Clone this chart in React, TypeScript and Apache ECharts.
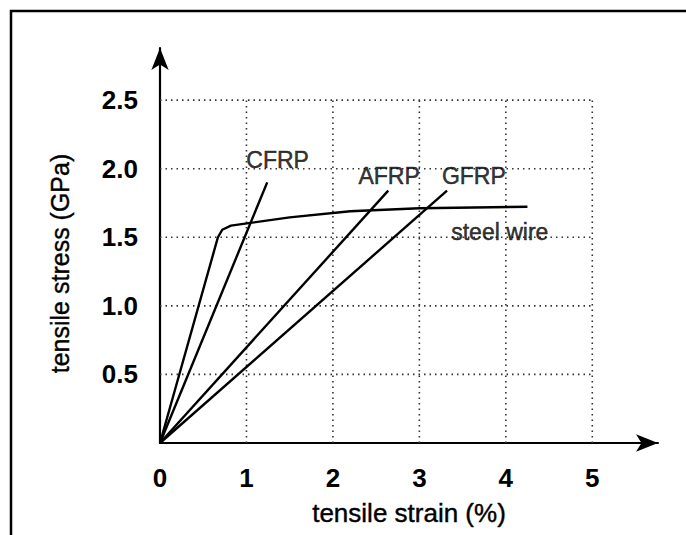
import React, { useEffect, useRef } from "react";
import * as echarts from "echarts";

const strainTicks = [0, 1, 2, 3, 4, 5];
const stressTicks = [0.5, 1.0, 1.5, 2.0, 2.5];
const steelWire: number[][] = [
  [0, 0], [0.67, 1.5], [0.72, 1.555], [0.82, 1.585], [1.5, 1.645], [2.2, 1.69], [3.0, 1.712], [4.25, 1.722],
];
const cfrp: number[][] = [[0, 0], [1.24, 1.9]];
const afrp: number[][] = [[0, 0], [2.64, 1.84]];
const gfrp: number[][] = [[0, 0], [3.32, 1.84]];
const curveLabels = [
  { name: "CFRP", value: [1.36, 2.06] },
  { name: "AFRP", value: [2.65, 1.95] },
  { name: "GFRP", value: [3.63, 1.95] },
  { name: "steel wire", value: [3.93, 1.54] },
];
const xAxisMax = 5.76;
const yAxisMax = 2.88;
const gridXMax = 5;
const gridYMax = 2.5;

const FONT = "'Liberation Sans', Arial, Helvetica, sans-serif";

export default function App() {
  const ref = useRef<HTMLDivElement>(null);
  useEffect(() => {
    if (!ref.current) return;
    const chart = echarts.init(ref.current, null, { renderer: "svg" });
    const gridSeries: any[] = [];
    strainTicks.filter((t) => t > 0).forEach((t) => {
      gridSeries.push({
        type: "line", data: [[t, 0], [t, gridYMax]], symbol: "none", silent: true,
        lineStyle: { color: "#333", width: 1.6, type: [1.5, 4] }, z: 1,
      });
    });
    stressTicks.forEach((t) => {
      gridSeries.push({
        type: "line", data: [[0, t], [gridXMax, t]], symbol: "none", silent: true,
        lineStyle: { color: "#333", width: 1.6, type: [1.5, 4] }, z: 1,
      });
    });
    const curve = (data: number[][]) => ({
      type: "line", data, symbol: "none", smooth: false,
      lineStyle: { color: "#000", width: 2.4 }, z: 3,
    });
    chart.setOption({
      animation: false,
      backgroundColor: "#fff",
      textStyle: { fontFamily: FONT },
      graphic: [
        {
          type: "polyline",
          shape: { points: [[11, 535], [11, 11], [686, 11]] },
          style: { stroke: "#000", lineWidth: 2.5, fill: "none" },
        },
      ],
      grid: { left: 160, right: 686 - 658, top: 48, bottom: 92, containLabel: false },
      xAxis: {
        type: "value", min: 0, max: xAxisMax, interval: 1,
        splitLine: { show: false }, axisTick: { show: false },
        axisLine: { show: true, lineStyle: { color: "#000", width: 2.2 }, symbol: ["none", "arrow"], symbolSize: [13, 22] },
        axisLabel: {
          show: true, margin: 22, color: "#000", fontSize: 26, fontWeight: "bold", fontFamily: FONT,
          showMaxLabel: false,
          formatter: (v: number) => (strainTicks.includes(v) ? String(v) : ""),
        },
        name: "tensile strain (%)", nameLocation: "middle", nameGap: 57,
        nameTextStyle: { color: "#000", fontSize: 26, fontFamily: FONT, textBorderColor: "#000", textBorderWidth: 0.4 },
      },
      yAxis: {
        type: "value", min: 0, max: yAxisMax, interval: 0.5,
        splitLine: { show: false }, axisTick: { show: false },
        axisLine: { show: true, lineStyle: { color: "#000", width: 2.2 }, symbol: ["none", "arrow"], symbolSize: [13, 22] },
        axisLabel: {
          show: true, margin: 22, color: "#000", fontSize: 26, fontWeight: "bold", fontFamily: FONT,
          showMaxLabel: false,
          formatter: (v: number) => (stressTicks.some((t) => Math.abs(t - v) < 1e-9) ? v.toFixed(1) : ""),
        },
        name: "tensile stress (GPa)", nameLocation: "middle", nameGap: 88,
        nameTextStyle: {
          color: "#000", fontSize: 25, fontFamily: FONT, padding: [0, 36, 0, 0],
          textBorderColor: "#000", textBorderWidth: 0.4,
        },
      },
      series: [
        ...gridSeries,
        curve(steelWire),
        curve(cfrp),
        curve(afrp),
        curve(gfrp),
        {
          type: "scatter", data: curveLabels, symbolSize: 0, silent: true, z: 4,
          label: {
            show: true, position: "inside", formatter: (p: any) => p.name,
            color: "#000", fontSize: 23, fontFamily: FONT, textBorderColor: "#000", textBorderWidth: 0.5,
          },
        },
      ],
    });
    return () => chart.dispose();
  }, []);
  return (
    <div
      ref={ref}
      style={{ position: "fixed", left: 0, top: 0, width: 686, height: 535, background: "#fff" }}
    />
  );
}
